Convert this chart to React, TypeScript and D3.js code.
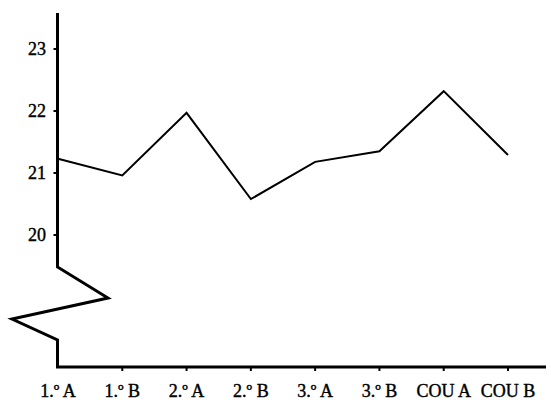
import React from "react";
import * as d3 from "d3";

const categories = ["1.º A", "1.º B", "2.º A", "2.º B", "3.º A", "3.º B", "COU A", "COU B"];
const values = [21.23, 20.96, 21.97, 20.58, 21.18, 21.35, 22.32, 21.29];
const yTicks = [20, 21, 22, 23];

export default function App() {
  const W = 551;
  const H = 400;
  const axisX = 57.5;
  const axisY = 367;
  const x = d3.scalePoint<string>().domain(categories).range([58, 508]);
  const y = d3.scaleLinear().domain([20, 23]).range([235, 49]);

  const line = d3
    .line<number>()
    .x((_, i) => x(categories[i]) as number)
    .y((d) => y(d));

  // axis with break zigzag
  const axisPath = d3.path();
  axisPath.moveTo(axisX, 13);
  axisPath.lineTo(axisX, 267);
  axisPath.lineTo(108, 298);
  axisPath.lineTo(12, 319);
  axisPath.lineTo(axisX, 340);
  axisPath.lineTo(axisX, axisY);
  axisPath.lineTo(546, axisY);

  const font = "'Liberation Serif', 'DejaVu Serif', serif";

  return (
    <svg
      width={W}
      height={H}
      style={{ position: "absolute", left: 0, top: 0, background: "#fff" }}
    >
      <rect width={W} height={H} fill="#fff" />
      <path
        d={axisPath.toString()}
        fill="none"
        stroke="#000"
        strokeWidth={3}
        strokeLinejoin="miter"
      />
      {yTicks.map((t) => (
        <g key={t}>
          <line x1={axisX - 4} x2={axisX} y1={y(t)} y2={y(t)} stroke="#000" strokeWidth={2} />
          <text
            x={46}
            y={y(t)}
            dy="0.35em"
            textAnchor="end"
            fontFamily={font}
            fontSize={18}
            fill="#000"
            stroke="#000"
            strokeWidth={0.4}
          >
            {t}
          </text>
        </g>
      ))}
      {categories.map((c, i) => (
        <g key={c}>
          {i > 0 && (
            <line
              x1={x(c)}
              x2={x(c)}
              y1={axisY}
              y2={axisY + 4}
              stroke="#000"
              strokeWidth={2}
            />
          )}
          <text
            x={x(c)}
            y={397}
            textAnchor="middle"
            fontFamily={font}
            fontSize={18}
            fill="#000"
            stroke="#000"
            strokeWidth={0.4}
          >
            {c}
          </text>
        </g>
      ))}
      <path d={line(values) || ""} fill="none" stroke="#000" strokeWidth={2} strokeLinejoin="miter" />
    </svg>
  );
}
